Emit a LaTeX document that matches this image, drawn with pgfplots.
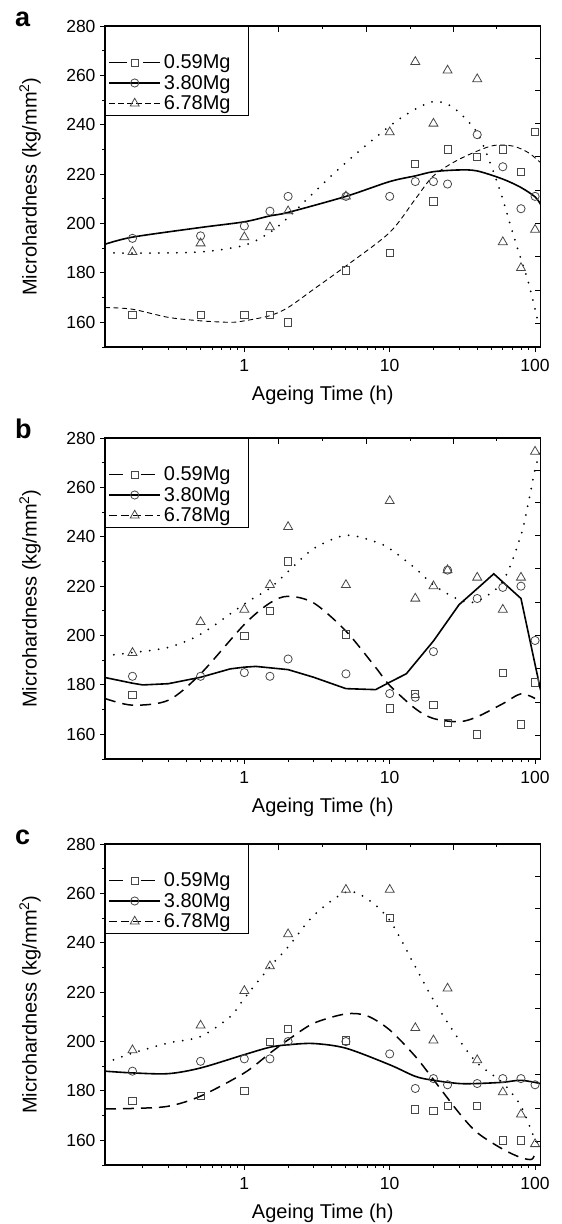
\documentclass[border=0pt]{standalone}
\usepackage{fontspec}
\setmainfont{Liberation Sans}
\usepackage{pgfplots}
\pgfplotsset{compat=1.18}

\newcommand{\lgf}{\fontsize{20}{24}\selectfont}
\newcommand{\blankrow}{\lgf\rule[-4.2pt]{0pt}{21.5pt}}
\pgfplotsset{
  legend image code/.code={%
    \draw[mark repeat=2,mark phase=2,#1] plot coordinates {(0pt,0pt) (25.5pt,0pt) (51pt,0pt)};},
}
\pgfplotsset{
  myBase/.style={
    scale only axis, width=435.5pt, height=321pt,
    xmin=0.11, xmax=109, ymin=150, ymax=280,
    axis line style={line width=1.1pt, black},
  },
  myOver/.style={myBase,
    xtick pos=right, ytick pos=right, tick align=inside,
    xtick={1.71,6.88,27.4}, minor xtick={3.46,13.8,54.6},
    ytick={267,254,240.5,227,213.5,200,186.5,173,159.5},
    xticklabels={}, yticklabels={},
    major tick length=5.5pt, minor tick length=3pt,
    tick style={line width=0.9pt, black},
  },
  myMain/.style={myBase,
    xtick={1,10,100}, xticklabels={1,10,100},
    minor xtick={0.2,0.3,0.4,0.5,0.6,0.7,0.8,0.9,2,3,4,5,6,7,8,9,20,30,40,50,60,70,80,90},
    ytick={160,180,...,280}, minor ytick={150,170,...,270},
    xtick pos=left, ytick pos=left, tick align=outside,
    major tick length=5pt, minor tick length=3pt,
    tick style={line width=0.9pt, black},
    ticklabel style={font=\fontsize{17.5}{20}\selectfont},
    xticklabel style={yshift=-4pt},
    yticklabel style={xshift=-1pt},
    /pgf/number format/assume math mode=true,
    xlabel={Ageing Time (h)},
    ylabel={Microhardness (kg/mm\textsuperscript{2})},
    label style={font=\fontsize{20}{24}\selectfont},
    xlabel style={at={(rel axis cs:0.5,-0.15)}, anchor=center},
    ylabel style={at={(rel axis cs:-0.172,0.5)}, anchor=center},
    legend style={at={(0,1)}, anchor=north west, draw=black, line width=1pt,
      fill=white, font=\lgf,
      inner xsep=3pt, inner ysep=2pt, row sep=0pt,
      nodes={inner xsep=3pt, inner ysep=2.5pt}},
    legend cell align=left,
  },
}
\tikzset{
  myMk/.style={only marks, draw=black!72, line width=0.8pt},
  mySq/.style={myMk, mark=square, mark size=3.6pt},
  myCi/.style={myMk, mark=o, mark size=4.1pt},
  myTr/.style={myMk, mark=triangle, mark size=5.2pt},
  myLmk/.style={mark options={solid, fill=white, draw=black!72, line width=0.8pt}},
  mySolid/.style={black, solid, line width=1.6pt},
  myDot/.style={black, line width=2pt, line cap=round, dash pattern=on 0pt off 9pt},
  myFine/.style={black, line width=0.9pt, dash pattern=on 5pt off 3.5pt},
  myLong/.style={black, line width=1.5pt, dash pattern=on 11pt off 7pt},
  myPan/.style={anchor=base west, inner sep=0pt, font=\bfseries\fontsize{27}{30}\selectfont},
}

\begin{document}
\begin{tikzpicture}
\path[use as bounding box] (-105pt,-877pt) rectangle (457pt,347pt);

% ================= panel a =================
\begin{axis}[xmode=log, myOver, at={(0pt,0pt)}]
\end{axis}
\begin{axis}[xmode=log, myMain, name=pa, at={(0pt,0pt)}]
\addlegendimage{empty legend}\addlegendentry{\blankrow}
\addlegendimage{black, line width=1pt, dash pattern=on 18pt off 16pt, mark=square, mark size=3.6pt, myLmk}
\addlegendentry{\lgf 0.59Mg\hspace*{12pt}}
\addlegendimage{black, line width=1.4pt, mark=o, mark size=4.1pt, myLmk}
\addlegendentry{\lgf 3.80Mg\hspace*{12pt}}
\addlegendimage{black, line width=1pt, dash pattern=on 6pt off 3pt, mark=triangle, mark size=5.2pt, myLmk}
\addlegendentry{\lgf 6.78Mg\hspace*{12pt}}

\addplot[myFine, smooth, no markers, forget plot] coordinates {(0.11,166)(0.17,165.3)(0.3,162)(0.5,160.6)(0.8,160)(1,160.6)(1.5,162.7)(2,166)(3,173.4)(5,182.8)(10,196.4)(15,209.9)(20,219.3)(30,226)(50,231.4)(70,231.4)(90,228.7)(109,224.7)};
\addplot[mySolid, smooth, no markers, forget plot] coordinates {(0.11,191.6)(0.17,194.5)(0.5,198.4)(1,200.7)(1.5,203.1)(2,204.5)(5,211)(10,217)(15,219.3)(20,221)(30,221.7)(40,221.3)(60,218)(80,214.6)(100,210.8)(109,207.8)};
\addplot[myDot, smooth, no markers, forget plot] coordinates {(0.11,188.3)(0.17,188)(0.5,188.5)(1,191.2)(1.5,196.4)(2,202.4)(3,212.5)(5,224.7)(10,239.5)(15,246.3)(20,249.4)(25,248.3)(30,245)(40,236.8)(50,223.3)(60,209.8)(70,196.4)(80,185.6)(90,176.1)(100,165.3)(104,161)};

\addplot[mySq, forget plot] coordinates {(0.17,163)(0.5,163)(1,163)(1.5,163)(2,160)(5,181)(10,188)(15,224)(20,209)(25,230)(40,227)(60,230)(80,221)(100,237)};
\addplot[myCi, forget plot] coordinates {(0.17,194)(0.5,195)(1,199)(1.5,205)(2,211)(5,211)(10,211)(15,217)(20,217)(25,216)(40,236)(60,223)(80,206)(100,211)};
\addplot[myTr, forget plot] coordinates {(0.17,188.5)(0.5,192)(1,194.5)(1.5,198.5)(2,205)(5,211)(10,237)(15,265.5)(20,240.5)(25,262)(40,258.5)(60,192.5)(80,182)(100,197.5)};
\end{axis}
\node[myPan] at ([xshift=-90pt]pa.north west) {a};

% ================= panel b =================
\begin{axis}[xmode=log, myOver, at={(0pt,-412pt)}]
\end{axis}
\begin{axis}[xmode=log, myMain, name=pb, at={(0pt,-412pt)}]
\addlegendimage{empty legend}\addlegendentry{\blankrow}
\addlegendimage{black, line width=1.2pt, dash pattern=on 14pt off 18pt, mark=square, mark size=3.6pt, myLmk}
\addlegendentry{\lgf 0.59Mg\hspace*{12pt}}
\addlegendimage{black, line width=1.4pt, mark=o, mark size=4.1pt, myLmk}
\addlegendentry{\lgf 3.80Mg\hspace*{12pt}}
\addlegendimage{black, line width=1.2pt, dash pattern=on 8pt off 4pt, mark=triangle, mark size=5.2pt, myLmk}
\addlegendentry{\lgf 6.78Mg\hspace*{12pt}}

\addplot[myLong, smooth, tension=0.5, no markers, forget plot] coordinates {(0.11,174.5)(0.17,171.8)(0.3,173.8)(0.5,184.5)(1,204.5)(1.5,213.2)(2,215.9)(3,213.2)(5,201.8)(8,187.1)(10,179.8)(15,170.4)(20,166.4)(30,165.1)(40,167.1)(60,172.4)(80,176.4)(100,174.5)};
\addplot[mySolid, no markers, forget plot] coordinates {(0.11,183)(0.17,180.7)(0.2,180)(0.3,180.5)(0.5,183.1)(0.8,186.5)(1,187.2)(1.2,187.5)(2,186.2)(3,183.1)(5,178.5)(8,178.1)(10,181.1)(13,184.5)(20,197.8)(30,212.5)(40,219)(52,225)(80,215)(109,178)};
\addplot[myDot, smooth, no markers, forget plot] coordinates {(0.11,191.8)(0.17,193.1)(0.3,195.2)(0.5,200.5)(1,212.8)(1.5,219.2)(2,225.9)(3,235.2)(5,240.6)(8,237.9)(10,235.2)(15,227.2)(20,220.5)(30,214.5)(40,213.9)(60,221.9)(80,240.6)(90,253.9)(100,267.3)(108,274)};

\addplot[mySq, forget plot] coordinates {(0.17,176)(1,200)(1.5,210)(2,230)(5,200.5)(10,170.5)(15,176.5)(20,172)(25,164.5)(40,160)(60,185)(80,164)(100,181)};
\addplot[myCi, forget plot] coordinates {(0.17,183.5)(0.5,183.5)(1,185)(1.5,183.5)(2,190.5)(5,184.5)(10,176.5)(15,175)(20,193.5)(25,226.5)(40,215)(60,219.5)(80,220)(100,198)};
\addplot[myTr, forget plot] coordinates {(0.17,193)(0.5,205.5)(1,210.5)(1.5,220.5)(2,244)(5,220.5)(10,254.5)(15,215)(20,220)(25,226.5)(40,223.5)(60,210.5)(80,223.5)(100,274.5)};
\end{axis}
\node[myPan] at ([xshift=-90pt]pb.north west) {b};

% ================= panel c =================
\begin{axis}[xmode=log, myOver, at={(0pt,-818pt)}]
\end{axis}
\begin{axis}[xmode=log, myMain, name=pc, at={(0pt,-818pt)}]
\addlegendimage{empty legend}\addlegendentry{\blankrow}
\addlegendimage{black, line width=1.2pt, dash pattern=on 14pt off 18pt, mark=square, mark size=3.6pt, myLmk}
\addlegendentry{\lgf 0.59Mg\hspace*{12pt}}
\addlegendimage{black, line width=1.4pt, mark=o, mark size=4.1pt, myLmk}
\addlegendentry{\lgf 3.80Mg\hspace*{12pt}}
\addlegendimage{black, line width=1.2pt, dash pattern=on 8pt off 4pt, mark=triangle, mark size=5.2pt, myLmk}
\addlegendentry{\lgf 6.78Mg\hspace*{12pt}}

\addplot[myLong, smooth, no markers, forget plot] coordinates {(0.11,172.7)(0.17,172.9)(0.3,173.8)(0.5,177.9)(1,187.3)(1.5,195.3)(2,200.7)(3,207.4)(5,211.2)(7,210.4)(10,204.7)(15,194)(20,184.6)(30,171.1)(40,163.1)(60,156.4)(80,153)(95,152.3)(100,155)};
\addplot[mySolid, smooth, no markers, forget plot] coordinates {(0.11,188)(0.17,187.3)(0.3,187)(0.5,189.3)(1,194.7)(1.5,197.7)(2,198.7)(3,199.2)(5,197.3)(10,190.6)(15,185.9)(20,184.3)(30,183)(40,183)(60,183.5)(80,184.3)(109,183)};
\addplot[myDot, smooth, no markers, forget plot] coordinates {(0.11,191.3)(0.17,195.3)(0.3,199.4)(0.5,202)(0.8,210.1)(1,217.5)(1.5,230.3)(2,238.3)(3,251.1)(5,260.5)(7,257.8)(10,249.1)(15,230.3)(20,216.8)(30,200.7)(40,191.3)(60,183.2)(80,173.8)(100,160.4)(108,159)};

\addplot[mySq, forget plot] coordinates {(0.17,176)(0.5,178)(1,180)(1.5,200)(2,205)(5,200.5)(10,250)(15,172.5)(20,172)(25,174)(40,174)(60,160)(80,160)};
\addplot[myCi, forget plot] coordinates {(0.17,188)(0.5,192)(1,193)(1.5,193)(2,200)(5,200)(10,195)(15,181)(20,185)(25,182.5)(40,183)(60,185)(80,185)(100,182.5)};
\addplot[myTr, forget plot] coordinates {(0.17,196.5)(0.5,206.5)(1,220.5)(1.5,230.5)(2,243.5)(5,261.5)(10,261.5)(15,205.5)(20,200.5)(25,221.5)(40,192.5)(60,179.5)(80,170.5)(100,158.5)};
\end{axis}
\node[myPan] at ([xshift=-90pt]pc.north west) {c};
\end{tikzpicture}
\end{document}
